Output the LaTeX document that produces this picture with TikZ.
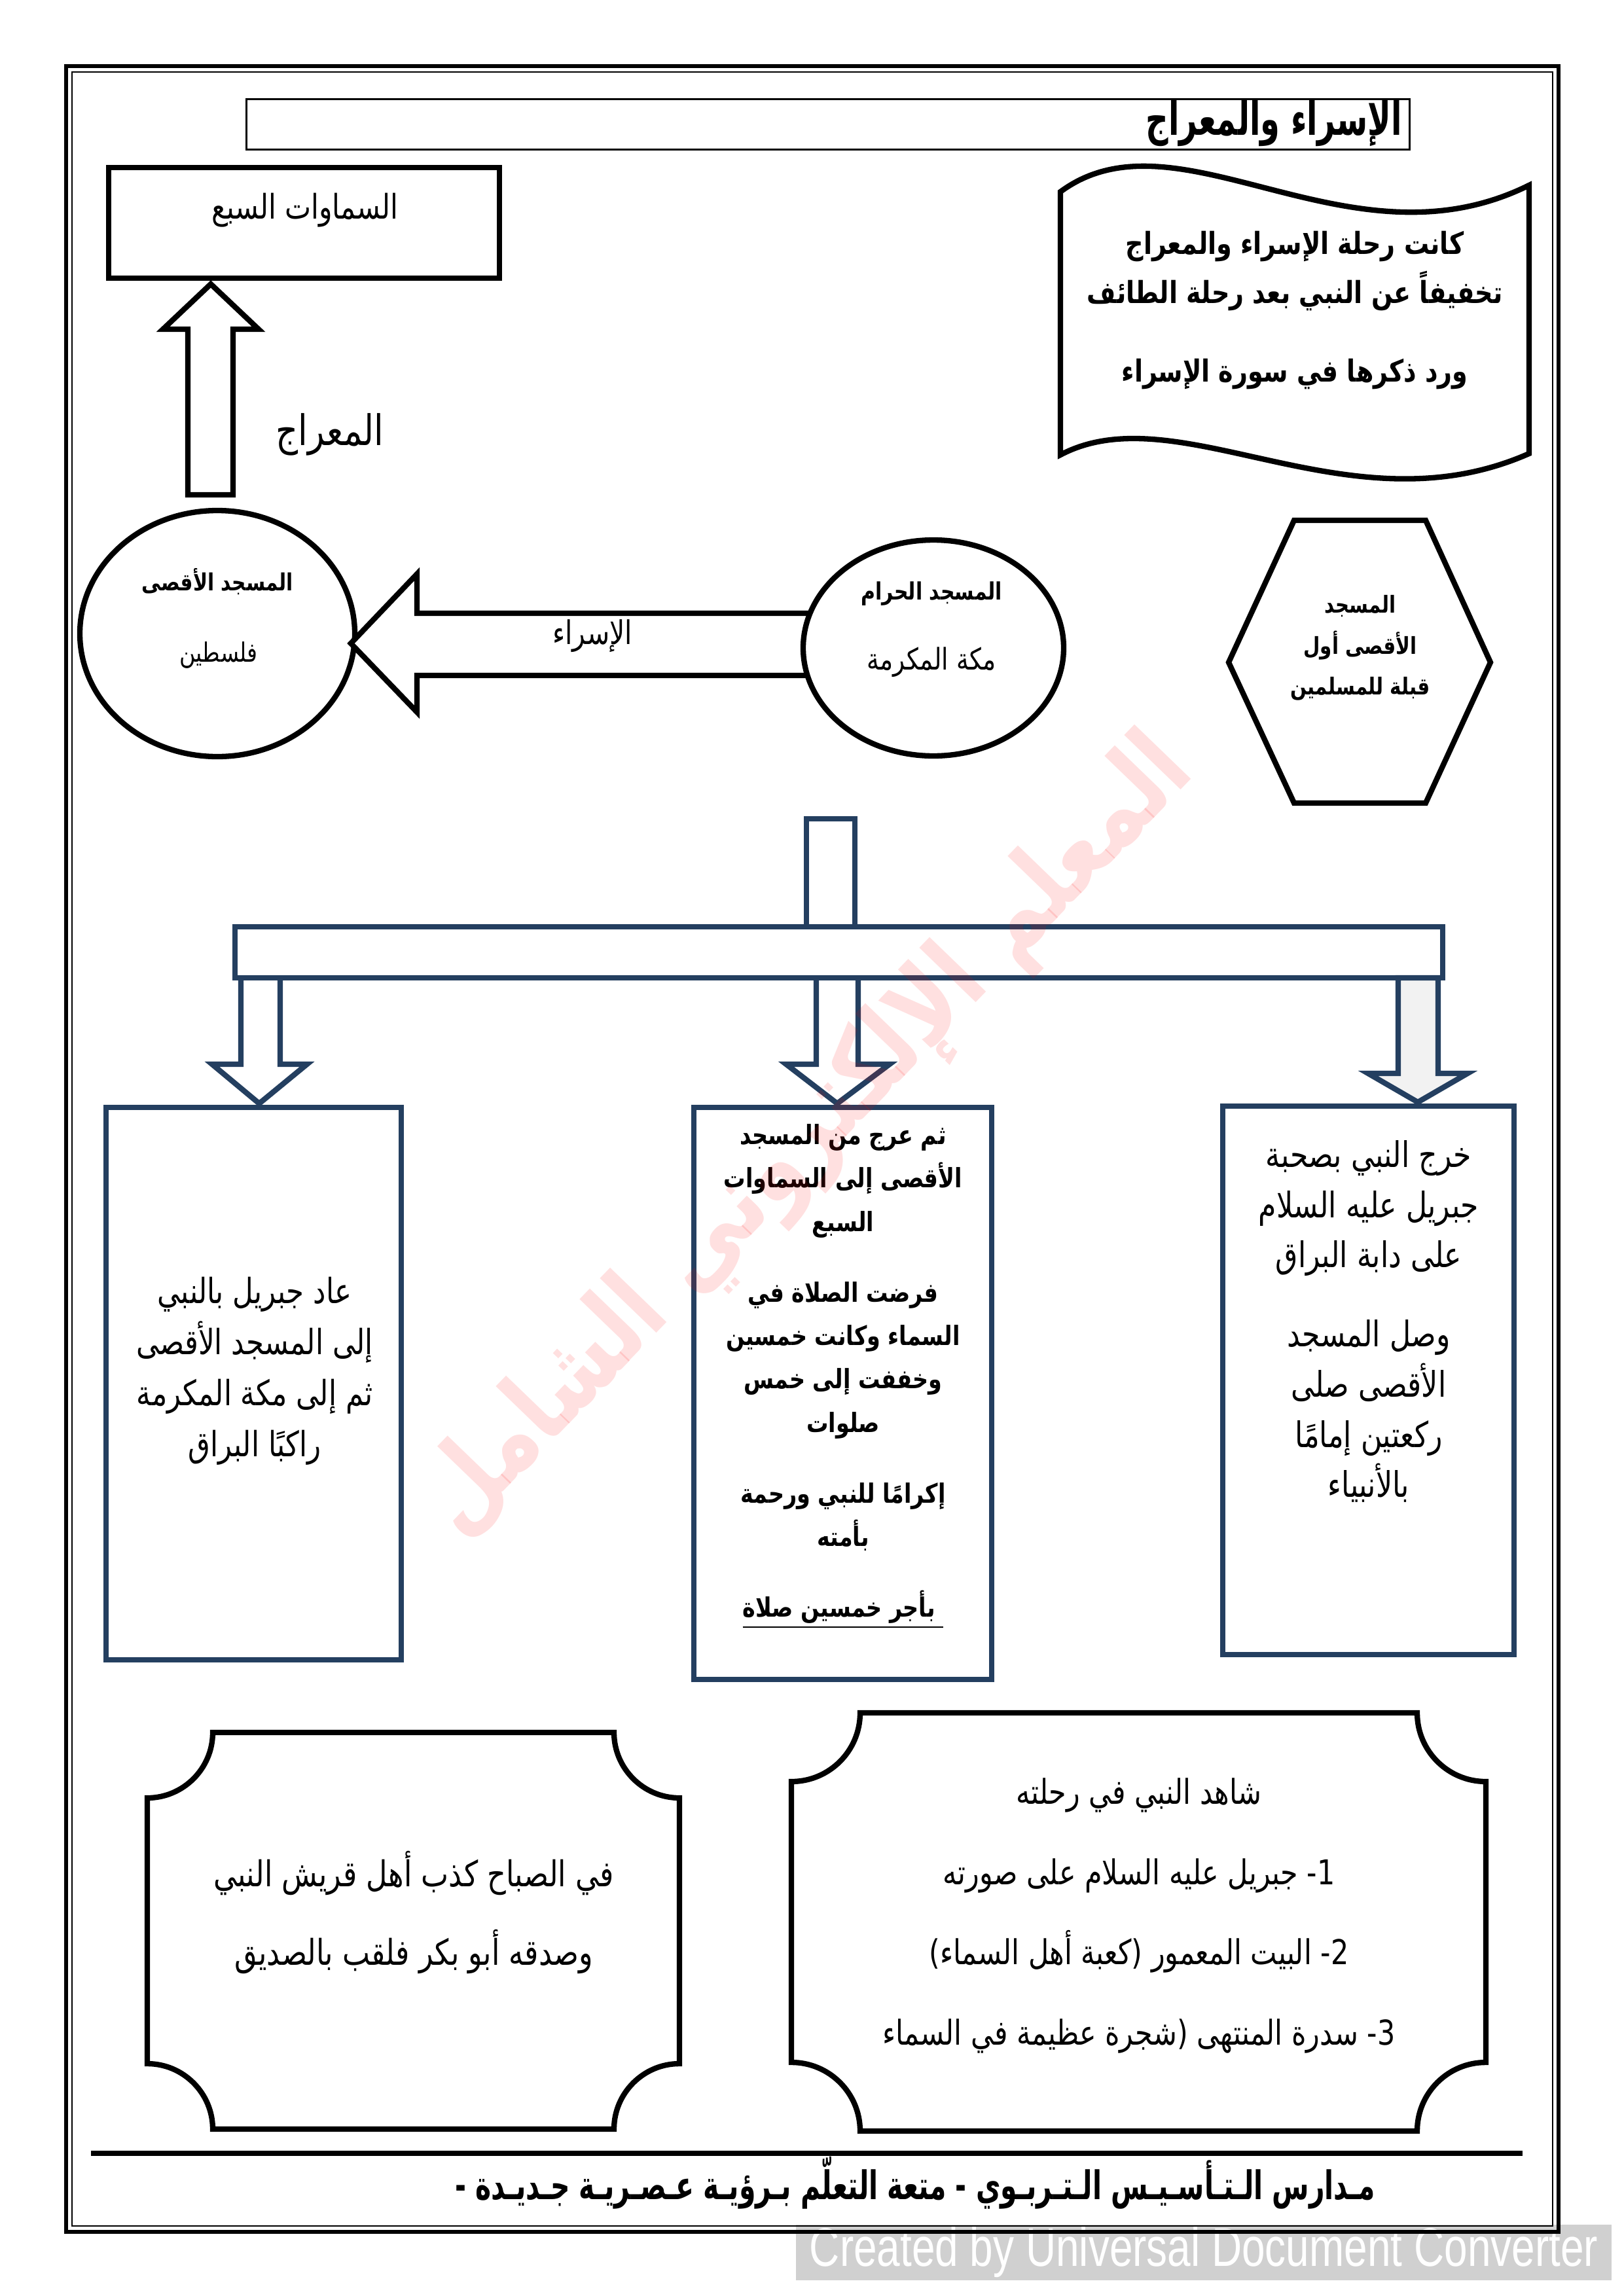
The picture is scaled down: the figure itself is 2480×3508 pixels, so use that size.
\documentclass[tikz,border=0pt]{standalone}
\usepackage{fontspec}
\newfontfamily\arf[Script=Arabic, FakeStretch=0.82]{DejaVu Sans}
\newfontfamily\arn[Script=Arabic, FakeStretch=0.68]{DejaVu Sans}
\newfontfamily\lsans{Liberation Sans}
\TeXXeTstate=1
\usetikzlibrary{shapes.geometric}
\definecolor{navy}{HTML}{243F60}
\definecolor{arrowgray}{HTML}{F2F2F2}
\definecolor{ucgray}{RGB}{208,208,208}
\newcommand{\rl}[1]{\beginR#1\endR}
\newcommand{\fz}[2]{\fontsize{#1}{#2}\selectfont}

\begin{document}
\begin{tikzpicture}[x=0.0084667cm, y=-0.0084667cm,
  txt/.style={inner sep=0pt, align=center, text=black},
  blk/.style={draw=black, line width=2pt, line join=miter},
  nv/.style={draw=navy, line width=2pt, line join=miter},
]
\useasboundingbox (0,0) rectangle (2480,3508);
\fill[white] (0,0) rectangle (2480,3508);

% converter stamp
\node[fill=ucgray, minimum width=300.2pt, minimum height=20.5pt, inner sep=0pt,
      text=white, font=\lsans\fz{20}{24}] (stamp) at (1839,3441)
      {\scalebox{0.77}[1]{Created by Universal Document Converter}};

% page frame
\draw[line width=1.4pt] (101,101) rectangle (2381,3410);
\draw[line width=0.6pt] (110,110) rectangle (2372,3401);

% title
\node[draw, line width=0.8pt, minimum width=428.3pt, minimum height=18.5pt, inner sep=0pt] (titlebox) at (1265,190) {};
\node[txt, anchor=east, font=\arn\bfseries\fz{17}{20}] (title) at (2143,188) {\rl{الإسراء والمعراج}};

% seven heavens box
\node[blk, minimum width=143.8pt, minimum height=40.7pt, inner sep=0pt] (sky) at (464.5,340.5) {};
\node[txt, font=\arf\fz{12.5}{15}] (skytext) at (466,321) {\rl{السماوات السبع}};

% miraj arrow
\draw[blk] (287,756) -- (287,503) -- (249,503) -- (322,434) -- (395,503) -- (356,503) -- (356,756) -- cycle;
\node[txt, font=\arf\fz{15.5}{18}] (mirajlbl) at (504,664) {\rl{المعراج}};

% al-aqsa ellipse
\node[ellipse, blk, fill=white, minimum width=101.2pt, minimum height=90.6pt, inner sep=0pt] (aqsa) at (332,968) {};
% isra arrow
\draw[blk, fill=white] (1240,937) -- (637,937) -- (637,877) -- (536,983) -- (637,1088) -- (637,1032) -- (1240,1032) -- cycle;
\node[ellipse, blk, fill=white, minimum width=95.9pt, minimum height=79.5pt, inner sep=0pt] (haram) at (1426,990) {};
\node[txt, font=\arf\bfseries\fz{8.7}{11}] (aqsa1) at (332,889) {\rl{المسجد الأقصى}};
\node[txt, font=\arf\fz{9.8}{12}] (aqsa2) at (334,1001) {\rl{فلسطين}};
\node[txt, font=\arf\bfseries\fz{8.8}{11}] (haram1) at (1423,907) {\rl{المسجد الحرام}};
\node[txt, font=\arf\fz{11}{13}] (haram2) at (1423,1012) {\rl{مكة المكرمة}};
\node[txt, font=\arf\fz{12}{14}] (isralbl) at (905,972) {\rl{الإسراء}};

% hexagon
\draw[blk] (1977,795) -- (2178,795) -- (2277,1012) -- (2178,1227) -- (1977,1227) -- (1877,1012) -- cycle;
\node[txt, font=\arf\bfseries\fz{8.6}{15}] (hextext) at (2078,990)
  {\rl{المسجد}\\\rl{الأقصى أول}\\\rl{قبلة للمسلمين}};

% wave banner
\draw[blk] (1620,293) .. controls (1800,160) and (2060,420) .. (2336,283) -- (2336,693)
  .. controls (2060,815) and (1800,600) .. (1620,695) -- cycle;
\node[txt, font=\arf\bfseries\fz{11.2}{18}] (wavetext) at (1978,474)
  {\rl{كانت رحلة الإسراء والمعراج}\\\rl{تخفيفاً عن النبي بعد رحلة الطائف}\\[11pt]\rl{ورد ذكرها في سورة الإسراء}};

% branching connector
\draw[nv] (1232,1416) -- (1232,1251) -- (1306,1251) -- (1306,1416);
\draw[nv, fill=white] (359,1416) rectangle (2204,1494);
\draw[nv] (368,1494) -- (368,1626) -- (324,1626) -- (396,1686) -- (469,1626) -- (428,1626) -- (428,1494);
\draw[nv] (1247,1494) -- (1247,1626) -- (1201,1626) -- (1279,1686) -- (1359,1626) -- (1311,1626) -- (1311,1494);
\draw[nv, fill=arrowgray] (2136,1494) -- (2136,1640) -- (2090,1640) -- (2166,1684) -- (2242,1640) -- (2197,1640) -- (2197,1494) -- cycle;

% three boxes
\node[nv, minimum width=108.6pt, minimum height=203.3pt, inner sep=0pt] (leftbox) at (387.5,2114) {};
\node[nv, minimum width=109.6pt, minimum height=210.5pt, inner sep=0pt] (midbox) at (1287.5,2129) {};
\node[nv, minimum width=107.2pt, minimum height=201.9pt, inner sep=0pt] (rightbox) at (2090.5,2109) {};

\node[txt, font=\arf\fz{12.8}{18.8}] (lefttext) at (389,2095)
  {\rl{عاد جبريل بالنبي}\\\rl{إلى المسجد الأقصى}\\\rl{ثم إلى مكة المكرمة}\\\rl{راكبًا البراق}};
\node[txt, font=\arf\bfseries\fz{9.8}{16}] (midtext) at (1288,2103)
  {\rl{ثم عرج من المسجد}\\\rl{الأقصى إلى السماوات}\\\rl{السبع}\\[10pt]%
   \rl{فرضت الصلاة في}\\\rl{السماء وكانت خمسين}\\\rl{وخففت إلى خمس}\\\rl{صلوات}\\[10pt]%
   \rl{إكرامًا للنبي ورحمة}\\\rl{بأمته}\\[10pt]%
   \underline{\rl{بأجر خمسين صلاة}\hspace{3pt}}};
\node[txt, font=\arf\fz{13}{18.5}] (righttext) at (2091,2019)
  {\rl{خرج النبي بصحبة}\\\rl{جبريل عليه السلام}\\\rl{على دابة البراق}\\[10.6pt]%
   \rl{وصل المسجد}\\\rl{الأقصى صلى}\\\rl{ركعتين إمامًا}\\\rl{بالأنبياء}};

% plaques
\draw[blk] (325,2647) -- (938,2647) .. controls (938,2702) and (983,2747) .. (1038,2747)
  -- (1038,3153) .. controls (983,3153) and (938,3198) .. (938,3253)
  -- (325,3253) .. controls (325,3198) and (280,3153) .. (225,3153)
  -- (225,2747) .. controls (280,2747) and (325,2702) .. (325,2647) -- cycle;
\draw[blk] (1314,2617) -- (2165,2617) .. controls (2165,2675) and (2212,2722) .. (2270,2722)
  -- (2270,3151) .. controls (2212,3151) and (2165,3198) .. (2165,3256)
  -- (1314,3256) .. controls (1314,3198) and (1267,3151) .. (1209,3151)
  -- (1209,2722) .. controls (1267,2722) and (1314,2675) .. (1314,2617) -- cycle;

\node[txt, font=\arf\fz{13.1}{29}] (quraysh) at (632,2922)
  {\rl{في الصباح كذب أهل قريش النبي}\\\rl{وصدقه أبو بكر فلقب بالصديق}};
\node[txt, font=\arf\fz{12.6}{29.6}] (witness) at (1740,2927)
  {\rl{شاهد النبي في رحلته}\\
   \rl{1\kern0pt- جبريل عليه السلام على صورته}\\
   \rl{2\kern0pt- البيت المعمور (\kern0pt كعبة أهل السماء\kern0pt)}\\
   \rl{3\kern0pt- سدرة المنتهى (\kern0pt شجرة عظيمة في السماء}};

% footer
\draw[line width=2pt] (139,3290) -- (2326,3290);
\node[txt, font=\arn\bfseries\fz{14.5}{17}] (footer) at (1398,3335)
  {\rl{مـدارس الـتـأسـيـس الـتـربـوي - متعة التعلّم بـرؤيـة عـصـريـة جـديـدة -}};

% watermark
\node[txt, rotate=46, text=red, opacity=0.12, font=\arf\bfseries\fz{38}{42}] (wmark) at (1235,1738)
  {\rl{المعلم الإلكتروني الشامل}};
\end{tikzpicture}
\end{document}
